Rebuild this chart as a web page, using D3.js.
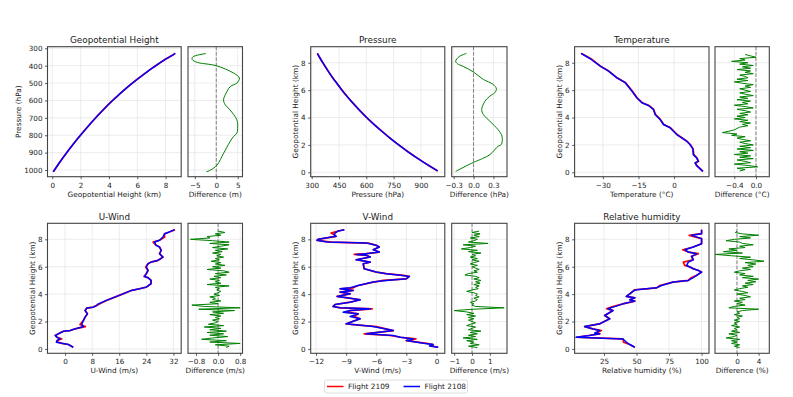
<!DOCTYPE html>
<html>
<head>
<meta charset="utf-8">
<script src="https://cdn.jsdelivr.net/npm/d3@7/dist/d3.min.js"></script>
<style>
  body { margin: 0; background: #fff; }
  text { font-family: "DejaVu Sans", sans-serif; fill: #1a1a1a; }
</style>
</head>
<body>
<svg id="chart" width="793" height="397"></svg>
<script>
// ---- data ----

// geopotential height panel: height (km) vs pressure (hPa)
var ghKm  = [0.07, 0.5, 1.0, 1.5, 2.0, 2.5, 3.0, 3.5, 4.0, 4.5, 5.0, 5.5, 6.0, 6.5, 7.0, 7.5, 8.0, 8.4, 8.68];
var ghHpa = [1010, 958, 902, 849, 799, 751, 705, 662, 620, 582, 545, 510, 478, 447, 417, 389, 362, 344, 329];
var ghDiffM   = [-2.4, -5.5, -5.6, -4.4, 0, 4.0, 5.4, 4.8, 3.3, 2.5, 1.7, 2.1, 3.2, 4.8, 5.0, 4.8, 4.0, 3.2, 1.7, 0.2, -1.3, -2.3];
var ghDiffHpa = [330, 350, 365, 381, 400, 442, 471, 500, 519, 548, 596, 625, 654, 711, 750, 788, 808, 837, 904, 971, 1000, 1010];

// pressure panel: pressure (hPa) vs height (km)
var pKm  = [8.68, 8.4, 8.0, 7.5, 7.0, 6.5, 6.0, 5.5, 5.0, 4.5, 4.0, 3.5, 3.0, 2.5, 2.0, 1.5, 1.0, 0.5, 0.1];
var pHpa = [331, 343, 361, 385, 410, 438, 466, 497, 530, 565, 602, 642, 685, 730, 778, 829, 884, 942, 992];
var pDiffHpa = [-0.108, -0.22, -0.27, -0.245, -0.147, 0, 0.148, 0.295, 0.345, 0.32, 0.246, 0.172, 0.123, 0.148, 0.246, 0.369, 0.43, 0.42, 0.37, 0.246, 0.1, 0, -0.27];
var pDiffKm  = [8.68, 8.44, 8.12, 7.93, 7.71, 7.32, 6.78, 6.42, 6.1, 5.81, 5.56, 5.19, 4.59, 4.22, 3.73, 3.12, 2.63, 2.03, 1.9, 1.29, 0.93, 0.73, 0.07];

// temperature
var tKm    = [8.68, 8.29, 7.75, 7.39, 6.9, 6.54, 5.93, 5.44, 5.08, 4.88, 4.59, 4.22, 3.86, 3.49, 3.25, 2.76, 2.27, 2.03, 1.71, 1.29, 1.05, 0.8, 0.69, 0.49, 0.07];
var t2108  = [-39.2, -35.3, -31.1, -27.6, -24.1, -20.6, -17.8, -15.7, -13.6, -10.8, -8.7, -8.0, -5.9, -4.5, -1.7, 1.1, 5.3, 6.7, 7.9, 8.1, 9.5, 10.2, 8.8, 9.5, 12.1];
var t2109  = [-39.0, -35.0, -31.0, -27.5, -24.0, -20.4, -17.6, -15.6, -13.4, -10.6, -8.6, -7.8, -5.8, -4.3, -1.5, 1.3, 5.4, 6.8, 8.0, 8.3, 9.6, 10.3, 9.0, 9.6, 12.2];

// u-wind
var uKm   = [8.70, 8.54, 8.41, 8.17, 7.93, 7.80, 7.56, 7.44, 7.20, 6.95, 6.70, 6.46, 6.34, 6.22, 5.98, 5.73, 5.49, 5.29, 5.20, 5.00,
             4.76, 4.51, 4.39, 4.27, 4.02, 3.78, 3.54, 3.29, 3.17, 3.05, 2.98, 2.80, 2.56, 2.32, 2.07, 1.78, 1.63, 1.46, 1.34, 1.29,
             1.10, 0.98, 0.85, 0.73, 0.61, 0.49, 0.41, 0.32, 0.12];
var u2108 = [32.3, 30.8, 29.4, 28.9, 27.9, 26.4, 26.9, 27.9, 28.4, 27.9, 28.9, 27.4, 25.4, 24.5, 24.0, 24.5, 24.0, 23.5, 24.5, 25.4,
             25.4, 24.0, 22.0, 19.6, 17.1, 14.7, 12.2, 9.8, 9.3, 8.3, 6.4, 5.9, 6.6, 5.9, 5.4, 4.9, 5.4, 2.9, 1.5, -0.5,
             -2.0, -2.9, -2.4, -1.5, -2.4, -2.6, -1.0, 1.0, 2.4];
var u2109 = [32.5, 30.8, 29.4, 29.4, 27.9, 26.0, 26.9, 27.9, 28.4, 27.9, 28.9, 27.4, 25.4, 24.5, 23.8, 24.5, 24.0, 23.3, 24.5, 25.4,
             25.4, 24.0, 22.0, 19.6, 17.1, 14.7, 12.2, 10.3, 9.3, 8.3, 6.4, 5.9, 6.6, 5.9, 5.4, 4.4, 6.0, 2.9, 1.5, -0.5,
             -2.0, -2.9, -2.4, -1.0, -2.4, -2.0, -1.0, 1.0, 2.4];

// v-wind
var vKm   = [8.70, 8.61, 8.46, 8.34, 8.22, 8.00, 7.93, 7.80, 7.73, 7.56, 7.44, 7.24, 7.07, 6.95, 6.90, 6.83, 6.71, 6.51, 6.34, 6.22,
             5.85, 5.61, 5.49, 5.37, 5.29, 5.12, 5.00, 4.88, 4.63, 4.46, 4.39, 4.27, 4.15, 4.02, 3.83, 3.73, 3.59, 3.41, 3.24, 3.10,
             3.00, 2.93, 2.80, 2.68, 2.56, 2.37, 2.20, 2.02, 1.83, 1.78, 1.63, 1.34, 1.10, 0.98, 0.85, 0.73, 0.61, 0.41, 0.32, 0.22, 0.12];
var v2108 = [-9.18, -9.78, -10.1, -10.2, -10.0, -11.8, -11.9, -10.9, -7.0, -6.0, -5.7, -6.3, -5.7, -7.0, -8.0, -7.0, -6.6, -8.0, -6.6, -7.3,
             -7.2, -6.0, -5.0, -3.6, -2.7, -3.0, -5.0, -6.3, -7.8, -8.6, -9.6, -8.3, -9.6, -8.6, -9.9, -8.9, -7.6, -8.6, -10.1, -10.3,
             -9.6, -6.6, -8.6, -9.3, -7.8, -8.6, -7.6, -8.3, -9.0, -8.3, -6.3, -4.3, -7.0, -4.3, -3.6, -2.3, -3.0, -1.3, -0.33, -0.7, 0.17];
var v2109 = [-9.18, -9.78, -10.5, -10.2, -10.0, -11.8, -11.9, -10.5, -6.8, -6.0, -5.7, -6.3, -5.7, -7.0, -8.2, -7.0, -6.6, -8.0, -6.6, -7.3,
             -7.2, -6.0, -5.0, -3.3, -2.7, -3.0, -5.3, -6.3, -7.8, -8.3, -9.6, -8.3, -9.6, -8.6, -9.9, -8.9, -7.6, -8.6, -10.1, -10.3,
             -9.6, -6.4, -8.6, -9.0, -7.8, -8.2, -7.6, -8.3, -9.0, -8.3, -6.0, -4.3, -7.2, -4.6, -3.6, -2.05, -3.0, -1.0, -0.33, -0.55, 0.17];

// relative humidity
var rhKm   = [8.70, 8.41, 8.29, 8.05, 7.68, 7.44, 7.24, 7.07, 6.95, 6.76, 6.51, 6.34, 6.10, 5.98, 5.85, 5.73, 5.61, 5.37, 5.20, 5.00,
              4.88, 4.63, 4.46, 4.39, 4.32, 4.22, 4.02, 3.83, 3.73, 3.59, 3.49, 3.29, 3.05, 2.93, 2.80, 2.44, 2.20, 1.83, 1.63, 1.46,
              1.34, 1.15, 1.10, 0.98, 0.85, 0.73, 0.49, 0.32, 0.12];
var rh2108 = [100, 100, 92.3, 100, 100, 93.6, 87.2, 89.8, 96.2, 92.3, 93.6, 89.8, 88.5, 91.1, 93.6, 97.5, 100, 96.2, 93.6, 89.8,
              78.2, 69.2, 65.4, 57.6, 49.9, 47.4, 44.8, 42.2, 48.7, 44.8, 48.7, 39.6, 31.9, 28.1, 31.9, 25.5, 29.4, 21.7, 10.1, 16.5,
              21.7, 17.8, 21.7, 14.0, 3.7, 39.6, 42.2, 44.8, 48.7];
var rh2109 = [100, 100, 90.5, 100, 100, 93.6, 85.5, 89.8, 97.5, 92.3, 93.6, 86.0, 87.0, 91.1, 93.6, 97.5, 100, 96.2, 92.0, 89.8,
              78.2, 67.9, 65.4, 57.6, 48.5, 47.4, 44.8, 42.2, 48.7, 44.8, 48.7, 39.6, 30.5, 27.0, 31.9, 25.5, 29.4, 21.7, 10.1, 16.5,
              23.0, 19.0, 21.7, 13.0, 3.7, 39.6, 40.0, 44.8, 48.7];

// heights for the noisy difference profiles (top to bottom)
var diffKm = [8.6, 8.5, 8.4, 8.3, 8.2, 8.1, 8.0, 7.9, 7.8, 7.7, 7.6, 7.5, 7.4, 7.3, 7.2, 7.1, 7.0, 6.9, 6.8, 6.7,
              6.6, 6.5, 6.4, 6.3, 6.2, 6.1, 6.0, 5.9, 5.8, 5.7, 5.6, 5.5, 5.4, 5.3, 5.2, 5.1, 5.0, 4.9, 4.8, 4.7,
              4.6, 4.5, 4.4, 4.3, 4.2, 4.1, 4.0, 3.9, 3.8, 3.7, 3.6, 3.5, 3.4, 3.3, 3.2, 3.1, 3.0, 2.9, 2.8, 2.7,
              2.6, 2.5, 2.4, 2.3, 2.2, 2.1, 2.0, 1.9, 1.8, 1.7, 1.6, 1.5, 1.4, 1.3, 1.2, 1.1, 1.0, 0.9, 0.8, 0.7,
              0.6, 0.5, 0.4, 0.3, 0.2, 0.1];
var tDiff = [-0.2, -0.1, 0.0, -0.3, -0.2, -0.45, -0.15, -0.3, -0.05, -0.25, -0.1, -0.35, -0.1, -0.2, -0.05, -0.3, -0.2, -0.15, -0.35, -0.15,
             -0.4, -0.25, -0.05, -0.2, -0.1, -0.3, -0.2, -0.1, -0.3, -0.2, -0.05, -0.3, -0.15, -0.35, -0.1, -0.25, -0.15, -0.4, -0.2, -0.05,
             -0.35, -0.2, -0.1, -0.3, -0.15, -0.35, -0.2, -0.4, -0.15, -0.3, -0.1, -0.25, -0.15, -0.3, -0.35, -0.4, -0.5, -0.62, -0.35, -0.45,
             -0.2, -0.35, -0.25, -0.1, -0.3, -0.2, -0.05, -0.3, -0.1, -0.35, -0.05, -0.3, -0.15, -0.4, -0.1, -0.3, -0.05, -0.35, -0.2, -0.1,
             -0.4, -0.15, 0.03, -0.35, -0.2, -0.3];
var uDiff = [0.0, 0.25, -0.1, 0.1, -0.4, -0.3, -1.0, -0.2, 0.4, -0.3, 0.4, 0.1, -0.2, 0.35, -0.1, 0.15, -0.2, 0.1, -0.05, 0.2,
             -0.1, 0.05, -0.25, 0.1, -0.1, 0.25, -0.2, 0.1, -0.4, 0.2, 0.4, -0.1, 0.3, -0.15, 0.1, -0.3, 0.05, -0.1, 0.1, -0.4,
             0.4, -0.1, 0.05, -0.05, 0.1, 0.0, -0.15, 0.05, -0.3, -0.1, -0.2, 0.1, -0.3, 0.0, -0.95, -0.5, 0.8, -0.7, 0.6, -0.2,
             0.2, -0.3, 0.1, -0.1, 0.05, -0.2, 0.0, -0.1, -0.35, 0.2, -0.5, 0.1, -0.3, 0.3, -0.4, 0.2, -0.3, 0.35, -0.2, -0.6,
             0.3, -0.3, 0.8, -0.1, 0.4, 0.3];
var vDiff = [0.4, 0.0, 0.45, 0.1, 0.4, -0.1, 0.3, 0.1, -0.2, 0.9, -0.5, 0.2, -0.1, -0.6, 0.3, -0.2, 0.5, 0.0, 0.2, -0.1,
             0.3, 0.0, 0.4, 0.1, -0.1, 0.3, 0.0, 0.2, 0.4, 0.1, 0.3, -0.2, -0.4, 0.2, 0.4, 0.1, 0.5, 0.2, 0.45, 0.1,
             0.4, 0.2, 0.35, 0.0, -0.3, 0.1, 0.3, 0.2, 0.4, 0.1, 0.3, 0.2, -0.1, 0.1, 0.0, 0.2, 1.8, 0.1, -1.0, -0.3,
             0.1, -0.3, 0.2, -0.2, 0.1, -0.2, 0.0, 0.2, -0.1, -0.3, 0.2, 0.0, -0.2, 0.5, -0.1, 0.3, -0.2, 0.2, -0.5, 0.3,
             -0.3, 0.1, -0.1, 0.4, -0.2, 0.3];
var rhDiff = [0.0, -0.3, 1.0, 4.0, 0.5, 2.5, -0.5, -2.0, 0.5, 1.0, 3.0, 0.5, 1.5, -1.5, 0.0, -2.5, 1.0, -4.0, -1.0, 2.5,
              0.5, 3.0, 5.0, 1.5, 3.5, 2.0, 3.0, 1.0, 2.5, 0.5, -0.5, 1.5, 0.5, 3.0, 1.0, 4.0, 2.0, 3.5, 1.5, 3.0,
              1.0, 2.0, 0.5, -0.5, 1.0, 2.0, 0.0, 1.5, 2.5, 0.5, 1.5, -0.5, 1.0, 0.0, 1.5, -0.5, -1.5, 4.0, 1.0, 0.0,
              0.5, -0.5, 1.0, 0.0, 0.5, -0.5, 0.5, -0.5, 0.0, -1.0, 0.5, -0.5, 0.0, -1.0, 0.5, -1.5, 0.0, -0.5, -2.0, 0.5,
              -1.0, 0.0, -1.0, 0.5, -0.5, 0.5];

// ticks
var kmTicks = [0, 2, 4, 6, 8];
var kmTickLabels = ["0", "2", "4", "6", "8"];
var hpaTicks = [300, 400, 500, 600, 700, 800, 900, 1000];

// ---- layout ----
var ROWS = [{top: 46.7, bottom: 176.7}, {top: 223.3, bottom: 353.3}];
var COLS = [{main: [47.5, 181.2], diff: [188, 242.5]},
            {main: [310.7, 444.8], diff: [451.7, 507]},
            {main: [574.6, 709], diff: [715, 769.3]}];
var RED = "#ff0000", BLUE = "#0000ff", GREEN = "#008000";

function minus(s) { return String(s).replace("-", "\u2212"); }

var panels = [
  { row: 0, col: 0, title: "Geopotential Height", xLabel: "Geopotential Height (km)", yLabel: "Pressure (hPa)", yLabelOff: 29.5,
    xDom: [-0.34, 9.1], yDom: [290.8, 1038.4], yDown: true, smooth: true,
    xTicks: kmTicks, xTickLabels: kmTickLabels, yTicks: hpaTicks, yTickLabels: hpaTicks.map(String),
    red: {x: ghKm, y: ghHpa}, blue: {x: ghKm, y: ghHpa},
    diff: {x: ghDiffM, y: ghDiffHpa}, dDom: [-6.59, 6.12], dTicks: [-5, 0, 5], dTickLabels: ["-5", "0", "5"], dLabel: "Difference (m)" },
  { row: 0, col: 1, title: "Pressure", xLabel: "Pressure (hPa)", yLabel: "Geopotential Height (km)", yLabelOff: 15,
    xDom: [294.5, 1031], yDom: [-0.32, 9.17], smooth: true,
    xTicks: [300, 450, 600, 750, 900], xTickLabels: ["300", "450", "600", "750", "900"], yTicks: kmTicks, yTickLabels: kmTickLabels,
    red: {x: pHpa, y: pKm}, blue: {x: pHpa, y: pKm},
    diff: {x: pDiffHpa, y: pDiffKm}, dDom: [-0.33, 0.505], dTicks: [-0.3, 0, 0.3], dTickLabels: ["-0.3", "0.0", "0.3"], dLabel: "Difference (hPa)" },
  { row: 0, col: 2, title: "Temperature", xLabel: "Temperature (\u00b0C)", yLabel: "Geopotential Height (km)", yLabelOff: 15,
    xDom: [-41.9, 14.7], yDom: [-0.32, 9.17],
    xTicks: [-30, -15, 0], xTickLabels: ["-30", "-15", "0"], yTicks: kmTicks, yTickLabels: kmTickLabels,
    red: {x: t2109, y: tKm}, blue: {x: t2108, y: tKm},
    diff: {x: tDiff, y: diffKm}, dDom: [-0.757, 0.246], dTicks: [-0.4, 0], dTickLabels: ["-0.4", "0.0"], dLabel: "Difference (\u00b0C)" },
  { row: 1, col: 0, title: "U-Wind", xLabel: "U-Wind (m/s)", yLabel: "Geopotential Height (km)", yLabelOff: 15,
    xDom: [-5.2, 34.3], yDom: [-0.32, 9.17],
    xTicks: [0, 8, 16, 24, 32], xTickLabels: ["0", "8", "16", "24", "32"], yTicks: kmTicks, yTickLabels: kmTickLabels,
    red: {x: u2109, y: uKm}, blue: {x: u2108, y: uKm},
    diff: {x: uDiff, y: diffKm}, dDom: [-1.09, 0.885], dTicks: [-0.8, 0, 0.8], dTickLabels: ["-0.8", "0.0", "0.8"], dLabel: "Difference (m/s)" },
  { row: 1, col: 1, title: "V-Wind", xLabel: "V-Wind (m/s)", yLabel: "Geopotential Height (km)", yLabelOff: 15,
    xDom: [-12.53, 0.83], yDom: [-0.32, 9.17],
    xTicks: [-12, -9, -6, -3, 0], xTickLabels: ["-12", "-9", "-6", "-3", "0"], yTicks: kmTicks, yTickLabels: kmTickLabels,
    red: {x: v2109, y: vKm}, blue: {x: v2108, y: vKm},
    diff: {x: vDiff, y: diffKm}, dDom: [-1.14, 1.96], dTicks: [-1, 0, 1], dTickLabels: ["-1", "0", "1"], dLabel: "Difference (m/s)" },
  { row: 1, col: 2, title: "Relative humidity", xLabel: "Relative humidity (%)", yLabel: "Geopotential Height (km)", yLabelOff: 15,
    xDom: [2.4, 105.7], yDom: [-0.32, 9.17],
    xTicks: [25, 50, 75, 100], xTickLabels: ["25", "50", "75", "100"], yTicks: kmTicks, yTickLabels: kmTickLabels,
    red: {x: rh2109, y: rhKm}, blue: {x: rh2108, y: rhKm},
    diff: {x: rhDiff, y: diffKm}, dDom: [-4.06, 5.97], dTicks: [0, 4], dTickLabels: ["0", "4"], dLabel: "Difference (%)" }
];

var svg = d3.select("#chart");

function styleAxis(g) {
  g.select(".domain").remove();
  g.selectAll(".tick line").attr("stroke", "#333").attr("stroke-width", 0.8);
  g.selectAll(".tick text").attr("font-size", 7.2).attr("fill", "#1a1a1a")
    .attr("font-family", "DejaVu Sans, sans-serif");
}

function drawFrame(x0, x1, y0, y1) {
  svg.append("rect")
    .attr("x", x0).attr("y", y0)
    .attr("width", x1 - x0).attr("height", y1 - y0)
    .attr("fill", "none").attr("stroke", "#444").attr("stroke-width", 1.1);
}

function drawPanel(p) {
  var r = ROWS[p.row], c = COLS[p.col];
  var x = d3.scaleLinear().domain(p.xDom).range(c.main);
  var y = d3.scaleLinear().domain(p.yDom).range(p.yDown ? [r.top, r.bottom] : [r.bottom, r.top]);
  var xd = d3.scaleLinear().domain(p.dDom).range(c.diff);
  var curve = p.smooth ? d3.curveCatmullRom : d3.curveLinear;

  var g = svg.append("g");

  // grid
  g.selectAll(".gx").data(p.xTicks).enter().append("line")
    .attr("x1", d => x(d)).attr("x2", d => x(d)).attr("y1", r.top).attr("y2", r.bottom)
    .attr("stroke", "#e7e7e7").attr("stroke-width", 0.8);
  g.selectAll(".gy").data(p.yTicks).enter().append("line")
    .attr("x1", c.main[0]).attr("x2", c.main[1]).attr("y1", d => y(d)).attr("y2", d => y(d))
    .attr("stroke", "#e7e7e7").attr("stroke-width", 0.8);
  g.selectAll(".gdx").data(p.dTicks).enter().append("line")
    .attr("x1", d => xd(d)).attr("x2", d => xd(d)).attr("y1", r.top).attr("y2", r.bottom)
    .attr("stroke", "#e7e7e7").attr("stroke-width", 0.8);
  g.selectAll(".gdy").data(p.yTicks).enter().append("line")
    .attr("x1", c.diff[0]).attr("x2", c.diff[1]).attr("y1", d => y(d)).attr("y2", d => y(d))
    .attr("stroke", "#e7e7e7").attr("stroke-width", 0.8);

  // profiles
  var line = d3.line().x(d => x(d[0])).y(d => y(d[1])).curve(curve);
  var redPts = p.red.x.map((v, i) => [v, p.red.y[i]]);
  var bluePts = p.blue.x.map((v, i) => [v, p.blue.y[i]]);
  g.append("path").attr("d", line(redPts)).attr("fill", "none")
    .attr("stroke", RED).attr("stroke-width", 1.7).attr("stroke-linejoin", "round");
  g.append("path").attr("d", line(bluePts)).attr("fill", "none")
    .attr("stroke", BLUE).attr("stroke-width", 1.5).attr("stroke-linejoin", "round");

  // difference
  g.append("line")
    .attr("x1", xd(0)).attr("x2", xd(0)).attr("y1", r.top).attr("y2", r.bottom)
    .attr("stroke", "#808080").attr("stroke-width", 1).attr("stroke-dasharray", "3.7,1.6");
  var dline = d3.line().x(d => xd(d[0])).y(d => y(d[1])).curve(curve);
  var diffPts = p.diff.x.map((v, i) => [v, p.diff.y[i]]);
  g.append("path").attr("d", dline(diffPts)).attr("fill", "none")
    .attr("stroke", GREEN).attr("stroke-width", 1).attr("stroke-linejoin", "round");

  drawFrame(c.main[0], c.main[1], r.top, r.bottom);
  drawFrame(c.diff[0], c.diff[1], r.top, r.bottom);

  // axes
  svg.append("g").attr("transform", "translate(0," + r.bottom + ")")
    .call(d3.axisBottom(x).tickValues(p.xTicks).tickFormat((d, i) => minus(p.xTickLabels[i])).tickSize(2.5).tickPadding(3.3))
    .call(styleAxis);
  svg.append("g").attr("transform", "translate(" + c.main[0] + ",0)")
    .call(d3.axisLeft(y).tickValues(p.yTicks).tickFormat((d, i) => p.yTickLabels[i]).tickSize(2.5).tickPadding(2.5))
    .call(styleAxis);
  svg.append("g").attr("transform", "translate(0," + r.bottom + ")")
    .call(d3.axisBottom(xd).tickValues(p.dTicks).tickFormat((d, i) => minus(p.dTickLabels[i])).tickSize(2.5).tickPadding(3.3))
    .call(styleAxis);

  // labels
  svg.append("text").attr("x", (c.main[0] + c.main[1]) / 2).attr("y", r.top - 3.5)
    .attr("text-anchor", "middle").attr("font-size", 8.8).text(p.title);
  svg.append("text").attr("x", (c.main[0] + c.main[1]) / 2).attr("y", r.bottom + 20)
    .attr("text-anchor", "middle").attr("font-size", 7.35).text(p.xLabel);
  svg.append("text").attr("x", (c.diff[0] + c.diff[1]) / 2).attr("y", r.bottom + 20)
    .attr("text-anchor", "middle").attr("font-size", 7.35).text(p.dLabel);
  svg.append("text")
    .attr("transform", "translate(" + (c.main[0] - p.yLabelOff + 2.6) + "," + ((r.top + r.bottom) / 2) + ") rotate(-90)")
    .attr("text-anchor", "middle").attr("font-size", 7.35).text(p.yLabel);
}

panels.forEach(drawPanel);

// legend
var legend = svg.append("g").attr("transform", "translate(324.5,380)");
legend.append("rect").attr("width", 143).attr("height", 13).attr("rx", 2)
  .attr("fill", "#fff").attr("stroke", "#d6d6d6").attr("stroke-width", 0.8);
var legendItems = [{name: "Flight 2109", color: RED}, {name: "Flight 2108", color: BLUE}];
legendItems.forEach(function(item, i) {
  var ox = 2.5 + i * 76.5;
  legend.append("line").attr("x1", ox).attr("x2", ox + 16.5).attr("y1", 6.5).attr("y2", 6.5)
    .attr("stroke", item.color).attr("stroke-width", 1.5);
  legend.append("text").attr("x", ox + 21).attr("y", 9.2).attr("font-size", 7.35).text(item.name);
});
</script>
</body>
</html>
